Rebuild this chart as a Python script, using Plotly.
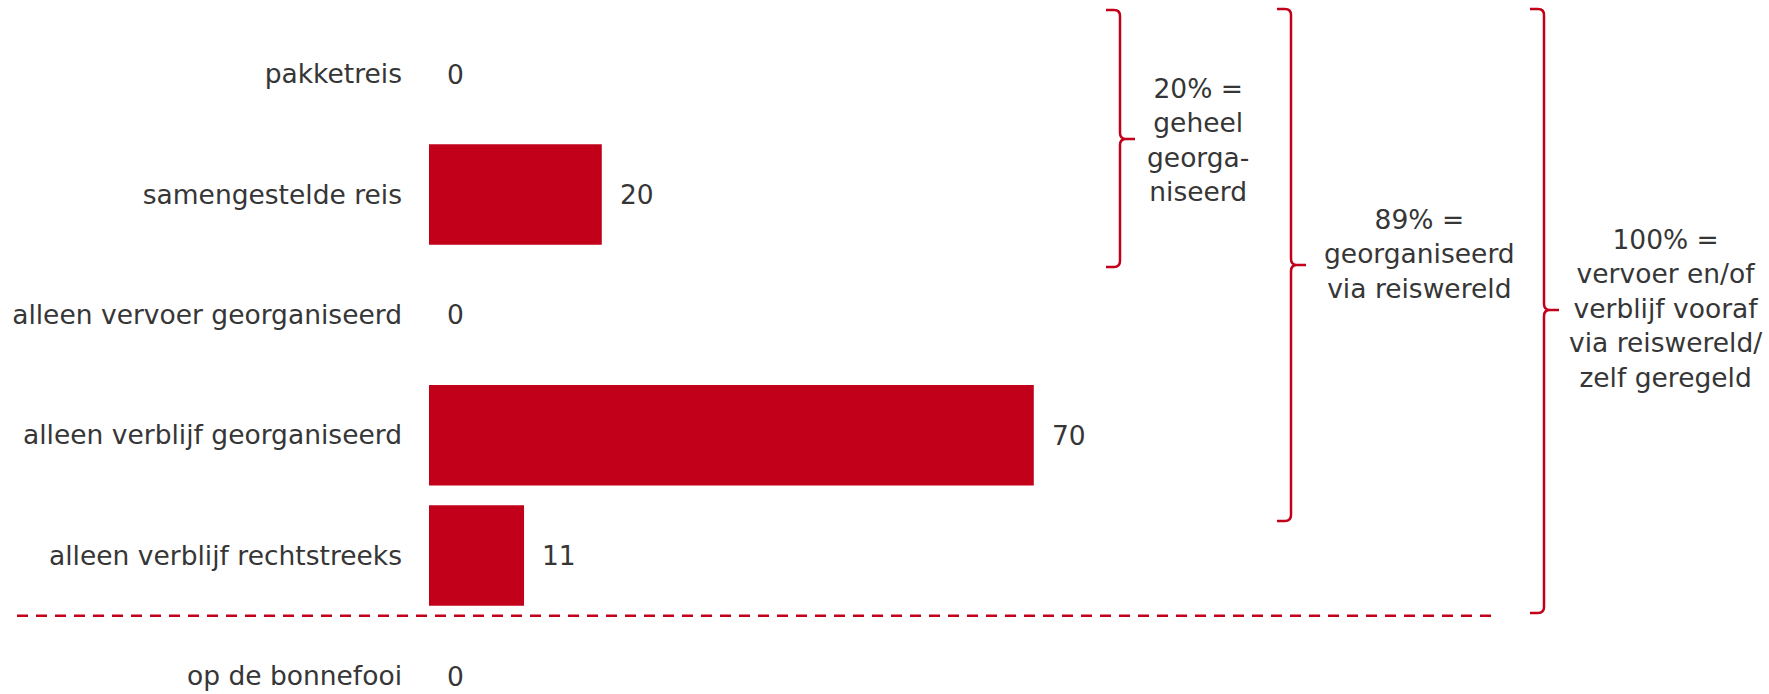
import plotly.graph_objects as go

# ---------------- data ----------------
categories = [
    "pakketreis",
    "samengestelde reis",
    "alleen vervoer georganiseerd",
    "alleen verblijf georganiseerd",
    "alleen verblijf rechtstreeks",
    "op de bonnefooi",
]
values = [0, 20, 0, 70, 11, 0]

brace_texts = [
    "20% =<br>geheel<br>georga-<br>niseerd",
    "89% =<br>georganiseerd<br>via reiswereld",
    "100% =<br>vervoer en/of<br>verblijf vooraf<br>via reiswereld/<br>zelf geregeld",
]

# ---------------- style / layout ----------------
RED = "#C3001A"
TXT = "#363636"
FONT = "Verdana, DejaVu Sans, sans-serif"
FS = 26.5
W, H = 1769, 694
PL = 429              # left edge of plot area (px)
PW = W - PL           # plot width (px)
PX_PER_UNIT = 8.64
ROW0, ROWSTEP = 74.0, 120.4

def pxx(x):
    return (x - PL) / PW

def pyy(y):
    return 1 - y / H

fig = go.Figure()
fig.add_trace(go.Bar(
    x=values, y=categories, orientation="h",
    marker=dict(color=RED, line=dict(width=0)),
    hoverinfo="x+y",
))

# value labels
for c, v in zip(categories, values):
    fig.add_annotation(x=v, y=c, xref="x", yref="y", text=str(v),
                       showarrow=False, xanchor="left", yanchor="middle",
                       xshift=16, font=dict(family=FONT, size=FS, color=TXT))

# dashed separator between the last two categories
fig.add_shape(type="line", xref="paper", yref="y",
              x0=pxx(17), x1=pxx(1495), y0=4.5, y1=4.5,
              line=dict(color=RED, width=2.5, dash="11px,8px"))

# braces: (x of vertical, top, bottom, tip y)
braces = [
    (1120, 10, 267, 139),
    (1291, 9, 521, 265),
    (1544, 9, 613, 310),
]
text_pos = [(1198, 140), (1419, 254), (1665, 309)]
HOOK, TIP, R = 14, 15, 6
for (X, T, B, M), txt, (tx, ty) in zip(braces, brace_texts, text_pos):
    pts = (
        f"M {pxx(X-HOOK)},{pyy(T)} "
        f"L {pxx(X-R)},{pyy(T)} Q {pxx(X)},{pyy(T)} {pxx(X)},{pyy(T+R)} "
        f"L {pxx(X)},{pyy(M-R)} Q {pxx(X)},{pyy(M)} {pxx(X+R)},{pyy(M)} "
        f"L {pxx(X+TIP)},{pyy(M)} M {pxx(X+R)},{pyy(M)} "
        f"Q {pxx(X)},{pyy(M)} {pxx(X)},{pyy(M+R)} "
        f"L {pxx(X)},{pyy(B-R)} Q {pxx(X)},{pyy(B)} {pxx(X-R)},{pyy(B)} "
        f"L {pxx(X-HOOK)},{pyy(B)}"
    )
    fig.add_shape(type="path", xref="paper", yref="paper", path=pts,
                  line=dict(color=RED, width=2.5))
    fig.add_annotation(x=pxx(tx), y=pyy(ty), xref="paper", yref="paper",
                       text=txt, showarrow=False, xanchor="center",
                       yanchor="middle", align="center",
                       font=dict(family=FONT, size=FS, color=TXT))

y_top = -ROW0 / ROWSTEP
y_bot = y_top + H / ROWSTEP

fig.update_layout(
    width=W, height=H,
    margin=dict(l=PL, r=0, t=0, b=0, pad=0),
    plot_bgcolor="white", paper_bgcolor="white",
    bargap=0.165,
    showlegend=False,
    font=dict(family=FONT, size=FS, color=TXT),
    xaxis=dict(range=[0, PW / PX_PER_UNIT], visible=False, fixedrange=True),
    yaxis=dict(range=[y_bot, y_top], showgrid=False, zeroline=False,
               showline=False, ticks="", ticklabelstandoff=26,
               tickfont=dict(family=FONT, size=FS, color=TXT),
               fixedrange=True, automargin=False),
)

fig.write_html("out.html", config={"displayModeBar": False},
               post_script="document.body.style.margin='0';")
